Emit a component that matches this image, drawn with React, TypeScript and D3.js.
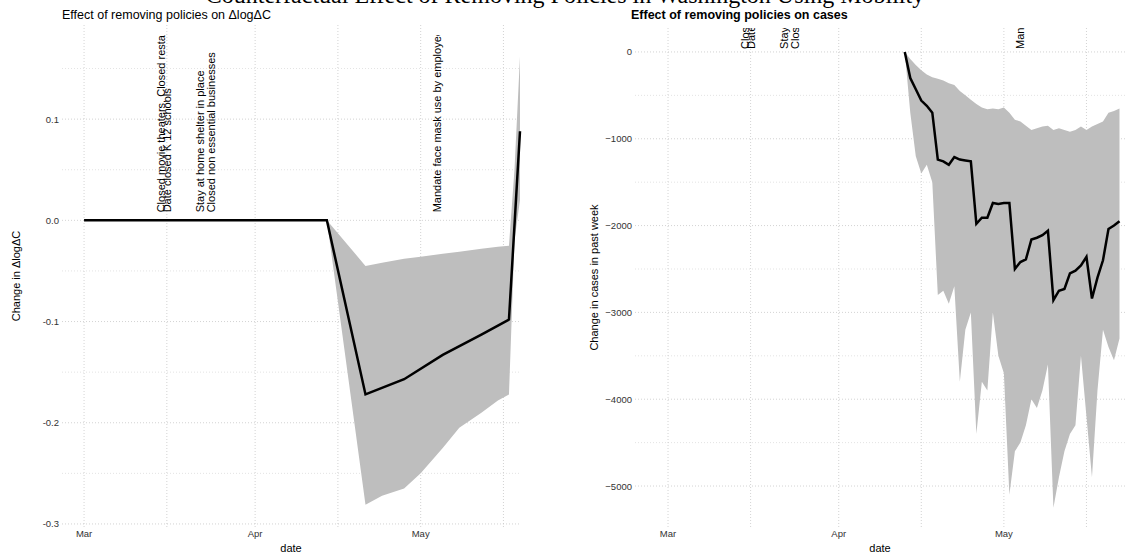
import { useEffect, useRef } from 'react';
import * as d3 from 'd3';

// Left panel: effect on ΔlogΔC (weekly points)
const leftDates = ['2020-03-01', '2020-04-14', '2020-04-21', '2020-04-28', '2020-05-05', '2020-05-12', '2020-05-17', '2020-05-19'];
const leftValues = [0, 0, -0.172, -0.157, -0.133, -0.113, -0.098, 0.088];
const leftBandDates = ['2020-03-01', '2020-04-14', '2020-04-21', '2020-04-24', '2020-04-28', '2020-05-01', '2020-05-05', '2020-05-08', '2020-05-12', '2020-05-15', '2020-05-17', '2020-05-18', '2020-05-19'];
const leftUpper = [0, 0, -0.045, -0.042, -0.038, -0.036, -0.033, -0.031, -0.028, -0.026, -0.025, 0.05, 0.162];
const leftLower = [0, 0, -0.281, -0.272, -0.265, -0.25, -0.225, -0.205, -0.19, -0.178, -0.172, -0.02, 0.02];

// Right panel: effect on cases, daily from Apr 13
const rightStart = '2020-04-13';
const rightValues = [0, -300, -430, -560, -620, -700, -1240, -1260, -1300, -1210, -1240, -1250, -1260, -1980, -1910, -1910, -1740, -1750, -1740, -1740, -2500, -2420, -2390, -2160, -2140, -2110, -2060, -2860, -2750, -2730, -2550, -2520, -2460, -2360, -2840, -2600, -2400, -2040, -2000, -1950];
const rightUpper = [0, -80, -150, -210, -260, -290, -310, -330, -360, -380, -450, -500, -550, -600, -640, -660, -650, -660, -640, -700, -780, -800, -850, -900, -880, -860, -850, -900, -880, -900, -920, -900, -860, -900, -860, -830, -800, -700, -680, -650];
const rightLower = [0, -700, -1200, -1400, -1300, -1500, -2800, -2750, -2900, -2700, -3800, -3200, -3000, -4400, -3800, -3900, -3000, -3500, -3700, -5100, -4600, -4500, -4300, -4000, -4100, -3900, -3600, -5250, -4900, -4600, -4400, -4300, -3500, -4200, -4900, -3900, -3200, -3400, -3550, -3300];

const policyNames = ['Closed movie theaters, Closed restaurants', 'Date closed K 12 schools', 'Stay at home  shelter in place', 'Closed non essential businesses', 'Mandate face mask use by employees'];
const policyDates = ['2020-03-15', '2020-03-16', '2020-03-22', '2020-03-24', '2020-05-04'];

const tickDates = ['2020-03-01', '2020-04-01', '2020-05-01'];
const gridDates = ['2020-03-01', '2020-03-16', '2020-04-01', '2020-04-16', '2020-05-01', '2020-05-16'];
const leftTicks = [0.1, 0, -0.1, -0.2, -0.3];
const rightTicks = [0, -1000, -2000, -3000, -4000, -5000];

const parse = d3.utcParse('%Y-%m-%d');
const font = 'Liberation Sans, Arial, sans-serif';

export default function App() {
  const ref = useRef<SVGSVGElement | null>(null);

  useEffect(() => {
    const svg = d3.select(ref.current);
    svg.selectAll('*').remove();

    svg.append('text').attr('x', 565).attr('y', 3).attr('text-anchor', 'middle')
      .attr('font-family', 'Liberation Serif, serif').attr('font-size', 24)
      .text('Counterfactual Effect of Removing Policies in Washington Using Mobility');

    const mar1 = parse('2020-03-01')!;
    function panel(opts: {
      x0: number; x1: number; top: number; clipTop: number; bottom: number;
      xDomain: [number, number]; yDomain: [number, number]; ticks: number[]; minor: number[];
      fmt: (v: number) => string; line: [Date, number][]; band: [Date, number, number][];
      title: string; titleX: number; bold: boolean; ylab: string; ylabX: number; labOff: number; id: string;
    }) {
      const x = d3.scaleUtc().domain(opts.xDomain.map(n => d3.utcDay.offset(mar1, n))).range([opts.x0, opts.x1]);
      const y = d3.scaleLinear().domain(opts.yDomain).range([opts.bottom, opts.top]);
      const g = svg.append('g');
      const grid = g.append('g').attr('stroke', '#c8c8c8').attr('stroke-dasharray', '1,2').attr('stroke-width', 0.8);
      opts.minor.forEach(v => grid.append('line').attr('x1', opts.x0).attr('x2', opts.x1).attr('y1', y(v)).attr('y2', y(v)).attr('stroke', '#dcdcdc'));
      opts.ticks.forEach(v => grid.append('line').attr('x1', opts.x0).attr('x2', opts.x1).attr('y1', y(v)).attr('y2', y(v)));
      gridDates.forEach(d => grid.append('line').attr('x1', x(parse(d)!)).attr('x2', x(parse(d)!)).attr('y1', opts.top).attr('y2', opts.bottom));

      g.append('path').datum(opts.band).attr('fill', '#bebebe')
        .attr('d', d3.area<[Date, number, number]>().x(d => x(d[0])).y0(d => y(d[2])).y1(d => y(d[1])));
      g.append('path').datum(opts.line).attr('fill', 'none').attr('stroke', '#000').attr('stroke-width', 2.5)
        .attr('d', d3.line<[Date, number]>().x(d => x(d[0])).y(d => y(d[1])));

      svg.append('clipPath').attr('id', opts.id).append('rect')
        .attr('x', opts.x0).attr('y', opts.clipTop).attr('width', opts.x1 - opts.x0).attr('height', opts.bottom - opts.clipTop);
      const labs = g.append('g').attr('clip-path', `url(#${opts.id})`);
      policyNames.forEach((n, i) => {
        const px = x(parse(policyDates[i])!);
        labs.append('text').attr('transform', `translate(${px + 4},${y(0) + opts.labOff}) rotate(-90)`)
          .attr('font-family', font).attr('font-size', 11).text(n);
      });

      opts.ticks.forEach(v => g.append('text').attr('x', opts.x0 - 3).attr('y', y(v) + 3.5).attr('text-anchor', 'end')
        .attr('font-family', font).attr('font-size', 9.5).attr('fill', '#333').text(opts.fmt(v)));
      tickDates.forEach(d => g.append('text').attr('x', x(parse(d)!)).attr('y', 537).attr('text-anchor', 'middle')
        .attr('font-family', font).attr('font-size', 9.5).attr('fill', '#333').text(d3.utcFormat('%b')(parse(d)!)));
      g.append('text').attr('x', (opts.x0 + opts.x1) / 2).attr('y', 552).attr('text-anchor', 'middle')
        .attr('font-family', font).attr('font-size', 11).text('date');
      g.append('text').attr('transform', `translate(${opts.ylabX},${(opts.top + opts.bottom) / 2}) rotate(-90)`)
        .attr('text-anchor', 'middle').attr('font-family', font).attr('font-size', 11).text(opts.ylab);
      g.append('text').attr('x', opts.titleX).attr('y', 19).attr('font-family', font).attr('font-size', 12.5)
        .attr('font-weight', opts.bold ? 'bold' : 'normal').text(opts.title);
    }

    const rs = parse(rightStart)!;
    panel({
      x0: 62, x1: 520, top: 25, clipTop: 35, bottom: 527,
      xDomain: [-3.63, 79.5], yDomain: [-0.303, 0.193],
      ticks: leftTicks, minor: [0.15, 0.05, -0.05, -0.15, -0.25],
      fmt: v => v.toFixed(1), id: 'cl',
      line: leftDates.map((d, i) => [parse(d)!, leftValues[i]] as [Date, number]),
      band: leftBandDates.map((d, i) => [parse(d)!, leftUpper[i], leftLower[i]] as [Date, number, number]),
      title: 'Effect of removing policies on ΔlogΔC', titleX: 62, bold: false, ylab: 'Change in ΔlogΔC', ylabX: 20, labOff: -8
    });
    panel({
      x0: 635, x1: 1125, top: 28, clipTop: 28, bottom: 527,
      xDomain: [-5.81, 83.15], yDomain: [-5472, 276],
      ticks: rightTicks, minor: [-500, -1500, -2500, -3500, -4500],
      fmt: v => (v === 0 ? '0' : '\u2212' + Math.abs(v)), id: 'cr',
      line: rightValues.map((v, i) => [d3.utcDay.offset(rs, i), v] as [Date, number]),
      band: rightUpper.map((v, i) => [d3.utcDay.offset(rs, i), v, rightLower[i]] as [Date, number, number]),
      title: 'Effect of removing policies on cases', titleX: 631, bold: true, ylab: 'Change in cases in past week', ylabX: 598, labOff: -3
    });
  }, []);

  return <svg ref={ref} width={1130} height={558} style={{ position: 'absolute', left: 0, top: 0, background: '#fff' }} />;
}
